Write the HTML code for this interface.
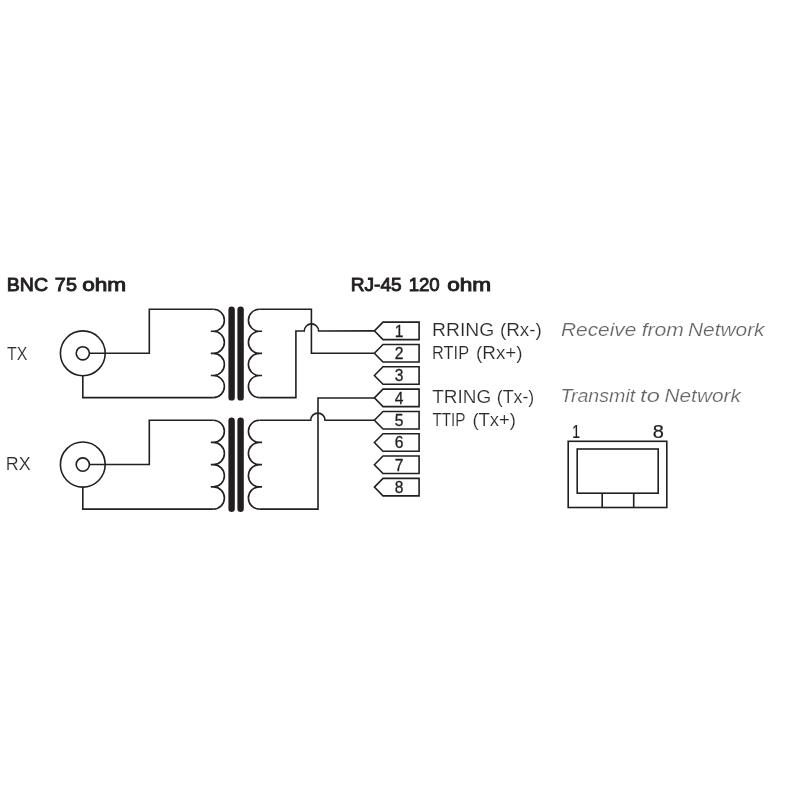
<!DOCTYPE html>
<html>
<head>
<meta charset="utf-8">
<style>
html,body{margin:0;padding:0;background:#fff;}
body{width:800px;height:800px;overflow:hidden;font-family:"Liberation Sans",sans-serif;}
svg{display:block;will-change:transform;}
text{font-family:"Liberation Sans",sans-serif;}
.w{fill:none;stroke:#231f20;stroke-width:1.6;stroke-linejoin:miter;stroke-linecap:butt;}
.core{stroke:#231f20;stroke-width:6.4;stroke-linecap:round;fill:none;}
.h{font-size:19.2px;fill:#231f20;stroke:#231f20;stroke-width:0.95;}
.t{font-size:19px;fill:#2a2a2a;stroke:#fff;stroke-width:0.18;}
.i{font-size:18.8px;font-style:italic;fill:#646464;stroke:#fff;stroke-width:0.2;}
.n{font-size:15.6px;fill:#231f20;text-anchor:middle;stroke:#231f20;stroke-width:0.3;}
.m{font-size:17.6px;fill:#231f20;stroke:#231f20;stroke-width:0.2;}
</style>
</head>
<body>
<svg width="800" height="800" viewBox="0 0 800 800">
<defs>
  <!-- transformer with BNC, origin = TX top wire y=309.25 -->
  <g id="xf">
    <!-- BNC -->
    <circle class="w" cx="82.8" cy="353.3" r="22.4"/>
    <circle class="w" cx="82.8" cy="353.3" r="6.6"/>
    <!-- primary wires -->
    <path class="w" d="M89.4,353.3 H149.3 V309.2 H213.4"/>
    <path class="w" d="M82.8,375.7 V397.6 H213.4"/>
    <!-- primary coil -->
    <path class="w" d="M213.4,309.2 A11,11.05 0 0 1 213.4,331.3 H210.8 M210.8,331.3 H213.4 A11,11.05 0 0 1 213.4,353.4 H210.8 M210.8,353.4 H213.4 A11,11.05 0 0 1 213.4,375.5 H210.8 M210.8,375.5 H213.4 A11,11.05 0 0 1 213.4,397.6"/>
    <!-- core -->
    <line class="core" x1="231.6" y1="309.6" x2="231.6" y2="397.4"/>
    <line class="core" x1="240.6" y1="309.6" x2="240.6" y2="397.4"/>
    <!-- secondary coil -->
    <path class="w" d="M259.4,309.2 A11,11.05 0 0 0 259.4,331.3 H262 M262,331.3 H259.4 A11,11.05 0 0 0 259.4,353.4 H262 M262,353.4 H259.4 A11,11.05 0 0 0 259.4,375.5 H262 M262,375.5 H259.4 A11,11.05 0 0 0 259.4,397.6"/>
  </g>
  <path id="pin" class="w" d="M0,0 L8.6,-8.75 H44.7 V8.75 H8.6 Z"/>
</defs>

<use href="#xf"/>
<use href="#xf" transform="translate(0,109.25) scale(1,1.00566)"/>

<!-- top secondary wires -->
<path class="w" d="M259.4,309.2 H311.4 V353.3 H374.4"/>
<path class="w" d="M259.4,397.6 H295.9 V331 H304.3 A7.15,7.1 0 0 1 318.6,331 L374.4,330.85"/>
<!-- bottom secondary wires -->
<path class="w" d="M259.4,420.2 H310.7 A7.15,7.1 0 0 1 325,420.2 H374.4"/>
<path class="w" d="M259.4,509.1 H318 V398 H374.4"/>

<!-- pins -->
<g>
<use href="#pin" x="374.4" y="330.85"/>
<use href="#pin" x="374.4" y="353.2"/>
<use href="#pin" x="374.4" y="375.5"/>
<use href="#pin" x="374.4" y="397.85"/>
<use href="#pin" x="374.4" y="420.2"/>
<use href="#pin" x="374.4" y="442.5"/>
<use href="#pin" x="374.4" y="464.8"/>
<use href="#pin" x="374.4" y="487.1"/>
<text class="n" x="399.2" y="336.7">1</text>
<text class="n" x="399.2" y="359.0">2</text>
<text class="n" x="399.2" y="381.3">3</text>
<text class="n" x="399.2" y="403.7">4</text>
<text class="n" x="399.2" y="426.0">5</text>
<text class="n" x="399.2" y="448.3">6</text>
<text class="n" x="399.2" y="470.6">7</text>
<text class="n" x="399.2" y="492.9">8</text>
</g>

<text class="h" x="6.74" y="291.2" textLength="41.26" lengthAdjust="spacingAndGlyphs">BNC</text>
<text class="h" x="54.86" y="291.2" textLength="22.04" lengthAdjust="spacingAndGlyphs">75</text>
<text class="h" x="82.21" y="291.2" textLength="43.99" lengthAdjust="spacingAndGlyphs">ohm</text>
<text class="h" x="350.76" y="291.2" textLength="50.96" lengthAdjust="spacingAndGlyphs">RJ-45</text>
<text class="h" x="408.64" y="291.2" textLength="31.10" lengthAdjust="spacingAndGlyphs">120</text>
<text class="h" x="447.21" y="291.2" textLength="43.99" lengthAdjust="spacingAndGlyphs">ohm</text>
<text class="t" x="6.94" y="359.8" textLength="20.29" lengthAdjust="spacingAndGlyphs">TX</text>
<text class="t" x="5.78" y="470.3" textLength="24.87" lengthAdjust="spacingAndGlyphs">RX</text>
<text class="t" x="432.07" y="336.2" textLength="62.11" lengthAdjust="spacingAndGlyphs">RRING</text>
<text class="t" x="499.91" y="336.2" textLength="41.93" lengthAdjust="spacingAndGlyphs">(Rx-)</text>
<text class="t" x="432.11" y="358.7" textLength="36.95" lengthAdjust="spacingAndGlyphs">RTIP</text>
<text class="t" x="476.09" y="358.7" textLength="46.56" lengthAdjust="spacingAndGlyphs">(Rx+)</text>
<text class="t" x="432.23" y="403.3" textLength="58.96" lengthAdjust="spacingAndGlyphs">TRING</text>
<text class="t" x="496.73" y="403.3" textLength="37.53" lengthAdjust="spacingAndGlyphs">(Tx-)</text>
<text class="t" x="432.38" y="425.8" textLength="33.23" lengthAdjust="spacingAndGlyphs">TTIP</text>
<text class="t" x="472.40" y="425.8" textLength="43.59" lengthAdjust="spacingAndGlyphs">(Tx+)</text>
<text class="i" x="560.99" y="336.2" textLength="75.39" lengthAdjust="spacingAndGlyphs">Receive</text>
<text class="i" x="641.66" y="336.2" textLength="42.27" lengthAdjust="spacingAndGlyphs">from</text>
<text class="i" x="688.02" y="336.2" textLength="76.54" lengthAdjust="spacingAndGlyphs">Network</text>
<text class="i" x="560.40" y="402.0" textLength="74.82" lengthAdjust="spacingAndGlyphs">Transmit</text>
<text class="i" x="640.13" y="402.0" textLength="19.73" lengthAdjust="spacingAndGlyphs">to</text>
<text class="i" x="664.53" y="402.0" textLength="76.35" lengthAdjust="spacingAndGlyphs">Network</text>
<text class="m" x="572.25" y="438.0" textLength="7.79" lengthAdjust="spacingAndGlyphs">1</text>
<text class="m" x="652.78" y="438.0" textLength="11.16" lengthAdjust="spacingAndGlyphs">8</text>
<!-- RJ45 jack -->
<rect class="w" x="568.2" y="441.3" width="98.6" height="66.2"/>
<rect class="w" x="577.2" y="449" width="81" height="44.2"/>
<path class="w" d="M602.2,493.2 V507.5 M633.7,493.2 V507.5"/>
</svg>
</body>
</html>
